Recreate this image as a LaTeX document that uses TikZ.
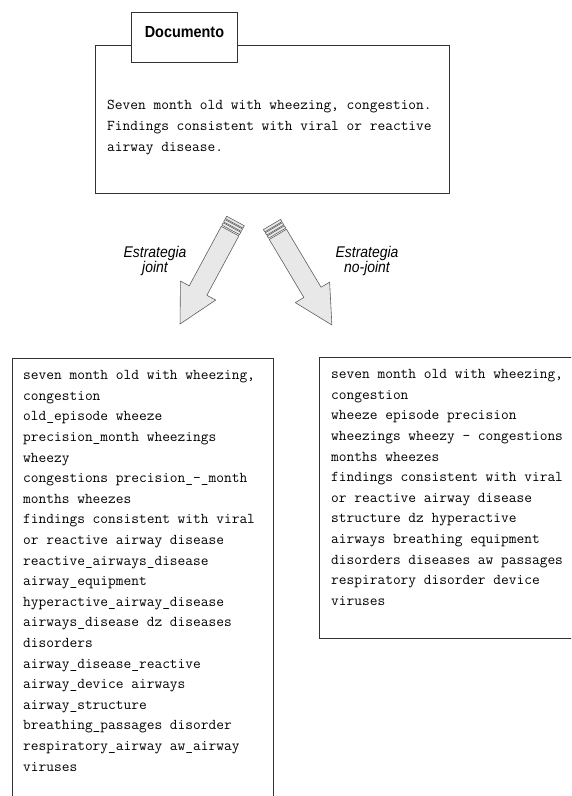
\documentclass[tikz,border=0pt]{standalone}
\usepackage{fontspec}
\newfontfamily\labelfont[FakeStretch=0.9]{Liberation Sans}
\usetikzlibrary{positioning,calc}
\definecolor{arrowfill}{RGB}{232,232,232}
\definecolor{arrowdraw}{RGB}{95,95,95}
\definecolor{boxdraw}{RGB}{50,50,50}

\begin{document}
\begin{tikzpicture}[x=1pt,y=1pt,
    box/.style={draw=boxdraw,line width=0.9pt,anchor=north west,inner sep=0pt},
    tabbox/.style={box,fill=white,minimum width=106pt,minimum height=50pt,text height=12pt,text depth=12pt,font=\labelfont\bfseries\fontsize{16}{18}\selectfont},
    listtext/.style={anchor=north west,inner sep=0pt,align=left,font=\fontsize{15}{20.6}\selectfont\ttfamily},
    strat/.style={align=center,inner sep=0pt,font=\labelfont\itshape\fontsize{15.5}{14}\selectfont},
    blockarrow/.style={draw=arrowdraw,fill=arrowfill,line width=0.6pt,line join=round}]
    \useasboundingbox (0,0) rectangle (571,-796);
    \clip (0,0) rectangle (571,-796);
    % document on top
    \node[box,minimum width=354pt,minimum height=148pt] (doc) at (95,-45) {};
    \node[tabbox] (tab) at (131,-12) {Documento};
    \node[listtext] (doctext) at ([xshift=12pt,yshift=-55.3pt]doc.north west) {Seven month old with wheezing, congestion.\\
      Findings consistent with viral or reactive\\
      airway disease.};
    % the two strategies
    \coordinate (jtail) at (235.5,-221);
    \coordinate (ntail) at (272,-224.5);
    \foreach \tail/\ang in {jtail/241.7,ntail/-59.2}{
      \begin{scope}[shift={(\tail)},rotate=\ang]
        \draw[blockarrow] (11.5,10) -- (79,10) -- (79,20) -- (117,0) -- (79,-20) -- (79,-10) -- (11.5,-10) -- cycle;
        \foreach \s in {0,3.7,7.4}
          \draw[blockarrow] (\s,-10) rectangle ++(2.7,20);
      \end{scope}
    }
    \node[strat] (jlabel) at (155,-261) {Estrategia\\joint};
    \node[strat] (nlabel) at (367,-261) {Estrategia\\no-joint};
    % results
    \node[box,minimum width=261pt,minimum height=460pt] (joint) at (12,-358) {};
    \node[box,minimum width=280pt,minimum height=281pt] (nojoint) at (319,-357) {};
    \node[listtext] (jointtext) at ([xshift=11pt,yshift=-12.3pt]joint.north west) {seven month old with wheezing,\\
      congestion\\
      old\_episode wheeze\\
      precision\_month wheezings\\
      wheezy\\
      congestions precision\_-\_month\\
      months wheezes\\
      findings consistent with viral\\
      or reactive airway disease\\
      reactive\_airways\_disease\\
      airway\_equipment\\
      hyperactive\_airway\_disease\\
      airways\_disease dz diseases\\
      disorders\\
      airway\_disease\_reactive\\
      airway\_device airways\\
      airway\_structure\\
      breathing\_passages disorder\\
      respiratory\_airway aw\_airway\\
      viruses};
    \node[listtext] (nojointtext) at ([xshift=12pt,yshift=-12.3pt]nojoint.north west) {seven month old with wheezing,\\
      congestion\\
      wheeze episode precision\\
      wheezings wheezy - congestions\\
      months wheezes\\
      findings consistent with viral\\
      or reactive airway disease\\
      structure dz hyperactive\\
      airways breathing equipment\\
      disorders diseases aw passages\\
      respiratory disorder device\\
      viruses};
  \end{tikzpicture}
\end{document}
